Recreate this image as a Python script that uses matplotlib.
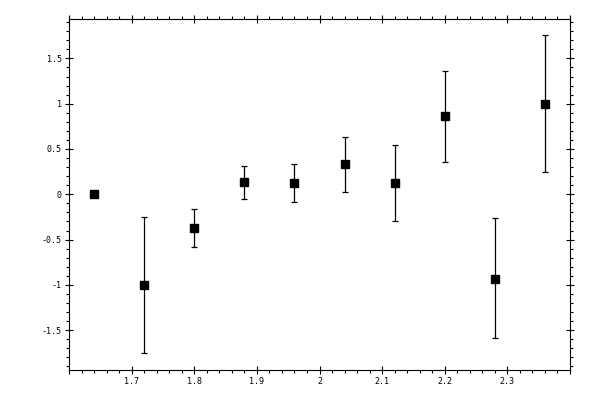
import numpy as np
import matplotlib
matplotlib.use('Agg')
import matplotlib.pyplot as plt
from matplotlib.ticker import MultipleLocator, FuncFormatter

# data
x = [1.64, 1.72, 1.80, 1.88, 1.96, 2.04, 2.12, 2.20, 2.28, 2.36]
y = [0.0, -1.0, -0.37, 0.13, 0.12, 0.33, 0.12, 0.86, -0.93, 1.0]
y_lo = [0.0, 0.75, 0.21, 0.18, 0.21, 0.31, 0.42, 0.50, 0.66, 0.75]
y_hi = [0.0, 0.75, 0.21, 0.18, 0.21, 0.30, 0.42, 0.50, 0.67, 0.76]

plt.rcParams['font.family'] = ['DejaVu Sans Mono']

fig = plt.figure(figsize=(6, 4), dpi=100)
ax = fig.add_axes([69/600., 30/400., 501/600., 351/400.])

ax.errorbar(x, y, yerr=[y_lo, y_hi], fmt='s', color='black', ms=5.8,
            elinewidth=0.9, capsize=2.2, capthick=0.9, ecolor='black')

ax.set_xlim(1.6, 2.4)
ax.set_ylim(-1.94, 1.935)

ax.xaxis.set_major_locator(MultipleLocator(0.1))
ax.xaxis.set_minor_locator(MultipleLocator(0.02))
ax.yaxis.set_major_locator(MultipleLocator(0.5))
ax.yaxis.set_minor_locator(MultipleLocator(0.1))

def xfmt(v, pos):
    if v < 1.65 or v > 2.35:
        return ''
    return '%g' % round(v, 2)

def yfmt(v, pos):
    return '%g' % round(v, 2)

ax.xaxis.set_major_formatter(FuncFormatter(xfmt))
ax.yaxis.set_major_formatter(FuncFormatter(yfmt))

ax.tick_params(which='major', direction='inout', length=5.8, width=0.8,
               top=True, right=True, labelsize=6, pad=2.5)
ax.tick_params(which='minor', direction='out', length=2.2, width=0.8,
               top=True, right=True)
for s in ax.spines.values():
    s.set_linewidth(0.8)

plt.savefig('out.png', dpi=100)
